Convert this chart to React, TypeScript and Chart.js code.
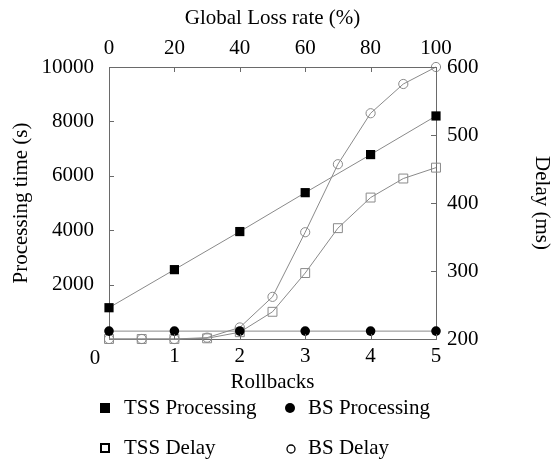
import React, { useEffect, useRef } from 'react';
import { Chart, registerables } from 'chart.js';

Chart.register(...registerables);

// ---- data ----
const rollbacks = [0, 1, 2, 3, 4, 5];
const tssProcessing = [1150, 2550, 3950, 5380, 6780, 8200];
const bsProcessing = [290, 290, 290, 290, 290, 290];
const lossRate = [0, 10, 20, 30, 40, 50, 60, 70, 80, 90, 100];
const tssDelay = [200, 200, 200, 201, 210, 240, 297, 363, 408, 436, 452];
const bsDelay = [200, 200, 200, 202, 217, 262, 357, 457, 532, 575, 600];

const rollbackTicks = [1, 2, 3, 4, 5];
const lossTicks = [0, 20, 40, 60, 80, 100];
const processingTicks = [2000, 4000, 6000, 8000, 10000];
const delayTicks = [200, 300, 400, 500, 600];

const legendItems = ['TSS Processing', 'BS Processing', 'TSS Delay', 'BS Delay'];

const FAMILY = '"Liberation Serif", "Times New Roman", serif';
const SIZE = 21;
const font = { family: FAMILY, size: SIZE };
const LINE = '#8a8a8a';
const AXIS = '#6a6a6a';

const pts = (xs: number[], ys: number[]) => xs.map((x, i) => ({ x, y: ys[i] }));

export default function App() {
  const ref = useRef<HTMLCanvasElement>(null);

  useEffect(() => {
    const canvas = ref.current;
    if (!canvas) return;

    const extras = {
      id: 'extras',
      afterDraw(chart: any) {
        const c = chart.ctx as CanvasRenderingContext2D;
        const a = chart.chartArea;
        const { x, x2, y, y2 } = chart.scales;
        const len = 5;
        c.save();
        c.strokeStyle = AXIS;
        c.lineWidth = 1;
        const line = (x1: number, y1: number, xx: number, yy: number) => {
          c.beginPath();
          c.moveTo(x1, y1);
          c.lineTo(xx, yy);
          c.stroke();
        };
        rollbackTicks.forEach((v) => {
          const p = Math.round(x.getPixelForValue(v)) + 0.5;
          line(p, a.bottom, p, a.bottom - len);
        });
        lossTicks.forEach((v) => {
          const p = Math.round(x2.getPixelForValue(v)) + 0.5;
          line(p, a.top, p, a.top + len);
        });
        processingTicks.forEach((v) => {
          const p = Math.round(y.getPixelForValue(v)) + 0.5;
          line(a.left, p, a.left + len, p);
        });
        delayTicks.forEach((v) => {
          const p = Math.round(y2.getPixelForValue(v)) + 0.5;
          line(a.right, p, a.right - len, p);
        });

        // the "0" label of the Rollbacks axis, drawn left of the origin as in the reference
        c.fillStyle = '#000';
        c.font = `${SIZE}px ${FAMILY}`;
        c.textAlign = 'center';
        c.textBaseline = 'middle';
        c.fillText('0', a.left - 14, x.top + 19);

        // legend
        c.textAlign = 'left';
        const rows = [408, 448];
        const cols = [100, 285];
        const tx = [124, 308];
        // TSS Processing
        c.fillStyle = '#000';
        c.fillRect(cols[0], rows[0] - 5, 10, 10);
        c.fillText(legendItems[0], tx[0], rows[0]);
        // BS Processing
        c.beginPath();
        c.arc(cols[1] + 5, rows[0], 5, 0, Math.PI * 2);
        c.fill();
        c.fillText(legendItems[1], tx[1], rows[0]);
        // TSS Delay
        c.strokeStyle = '#000';
        c.lineWidth = 2;
        c.strokeRect(cols[0] + 1, rows[1] - 4, 8, 8);
        c.fillText(legendItems[2], tx[0], rows[1]);
        // BS Delay
        c.lineWidth = 1.3;
        c.beginPath();
        c.arc(cols[1] + 6, rows[1] + 1, 4, 0, Math.PI * 2);
        c.stroke();
        c.fillText(legendItems[3], tx[1], rows[1]);
        c.restore();
      },
    };

    const common = {
      borderColor: LINE,
      borderWidth: 1,
      showLine: true,
      clip: false as any,
      pointHoverRadius: 0,
    };

    const chart = new Chart(canvas, {
      type: 'line',
      data: {
        datasets: [
          {
            ...common,
            label: legendItems[0],
            data: pts(rollbacks, tssProcessing),
            xAxisID: 'x',
            yAxisID: 'y',
            pointStyle: 'rect',
            pointRadius: 6.5,
            pointBackgroundColor: '#000',
            pointBorderColor: '#000',
            pointBorderWidth: 0,
          },
          {
            ...common,
            label: legendItems[1],
            data: pts(rollbacks, bsProcessing),
            xAxisID: 'x',
            yAxisID: 'y',
            pointStyle: 'circle',
            pointRadius: 4.8,
            pointBackgroundColor: '#000',
            pointBorderColor: '#000',
            pointBorderWidth: 0,
          },
          {
            ...common,
            label: legendItems[2],
            data: pts(lossRate, tssDelay),
            xAxisID: 'x2',
            yAxisID: 'y2',
            pointStyle: 'rect',
            pointRadius: 6.3,
            pointBackgroundColor: 'rgba(255,255,255,0)',
            pointBorderColor: LINE,
            pointBorderWidth: 1,
          },
          {
            ...common,
            label: legendItems[3],
            data: pts(lossRate, bsDelay),
            xAxisID: 'x2',
            yAxisID: 'y2',
            pointStyle: 'circle',
            pointRadius: 4.6,
            pointBackgroundColor: 'rgba(255,255,255,0)',
            pointBorderColor: LINE,
            pointBorderWidth: 1,
          },
        ],
      },
      options: {
        responsive: false,
        animation: false,
        events: [],
        layout: { padding: { left: 0, right: 0, top: 0, bottom: 64 } },
        plugins: { legend: { display: false }, tooltip: { enabled: false } },
        scales: {
          x: {
            type: 'linear',
            position: 'bottom',
            min: 0,
            max: 5,
            afterBuildTicks: (s: any) => {
              s.ticks = rollbackTicks.map((v) => ({ value: v }));
            },
            ticks: { font, color: '#000', padding: 5, maxRotation: 0, autoSkip: false, callback: (v: any) => String(v) },
            grid: { display: false, drawTicks: false },
            border: { display: true, color: AXIS, width: 1 },
            title: { display: true, text: 'Rollbacks', font, color: '#000', padding: { top: 0, bottom: 0 } },
            afterFit: (s: any) => {
              s.height = 56;
            },
          },
          x2: {
            type: 'linear',
            position: 'top',
            min: 0,
            max: 100,
            afterBuildTicks: (s: any) => {
              s.ticks = lossTicks.map((v) => ({ value: v }));
            },
            ticks: { font, color: '#000', padding: 6, maxRotation: 0, autoSkip: false, callback: (v: any) => String(v) },
            grid: { display: false, drawTicks: false },
            border: { display: true, color: AXIS, width: 1 },
            title: { display: true, text: 'Global Loss rate (%)', font, color: '#000', padding: { top: 6, bottom: 0 } },
            afterFit: (s: any) => {
              s.height = 67;
            },
          },
          y: {
            type: 'linear',
            position: 'left',
            min: 0,
            max: 10000,
            afterBuildTicks: (s: any) => {
              s.ticks = processingTicks.map((v) => ({ value: v }));
            },
            ticks: { font, color: '#000', padding: 15, autoSkip: false, callback: (v: any) => String(v) },
            grid: { display: false, drawTicks: false },
            border: { display: true, color: AXIS, width: 1 },
            title: { display: true, text: 'Processing time (s)', font, color: '#000', padding: { top: 9, bottom: 0 } },
            afterFit: (s: any) => {
              s.width = 109;
            },
          },
          y2: {
            type: 'linear',
            position: 'right',
            min: 200,
            max: 600,
            afterBuildTicks: (s: any) => {
              s.ticks = delayTicks.map((v) => ({ value: v }));
            },
            ticks: { font, color: '#000', padding: 11, autoSkip: false, callback: (v: any) => String(v) },
            grid: { display: false, drawTicks: false },
            border: { display: true, color: AXIS, width: 1 },
            title: { display: true, text: 'Delay (ms)', font: { ...font, lineHeight: 1 }, color: '#000', padding: { top: 0, bottom: 0 } },
            afterFit: (s: any) => {
              s.width = 116;
            },
          },
        },
      },
      plugins: [extras],
    });

    return () => chart.destroy();
  }, []);

  return (
    <div style={{ position: 'absolute', left: 0, top: 0, width: 552, height: 459, background: '#fff' }}>
      <canvas ref={ref} width={552} height={459} style={{ display: 'block', width: 552, height: 459 }} />
    </div>
  );
}
